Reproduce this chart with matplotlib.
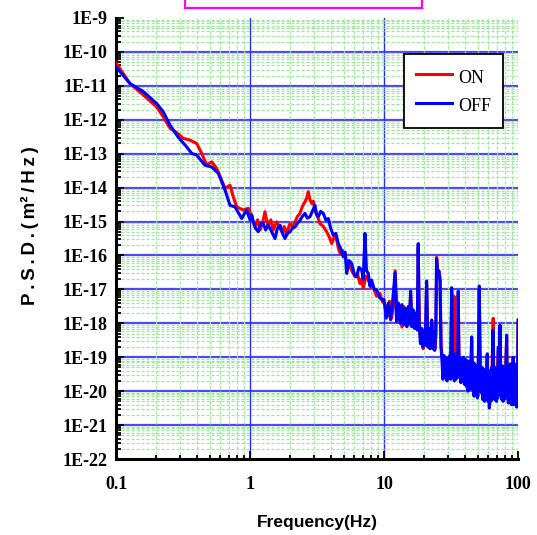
import numpy as np
import matplotlib.pyplot as plt
from matplotlib.ticker import LogLocator, FuncFormatter, NullFormatter
from matplotlib.patches import Rectangle

# frequency (Hz) and log10 of PSD (m^2/Hz)
on_freq = [0.100, 0.127, 0.160, 0.201, 0.225, 0.253, 0.284, 0.318, 0.357, 0.400,
           0.436, 0.475, 0.518, 0.564, 0.615, 0.651, 0.709, 0.750, 0.796, 0.891,
           0.971, 1.03, 1.089, 1.14, 1.188, 1.24, 1.294, 1.33, 1.371, 1.43,
           1.493, 1.54, 1.582, 1.65, 1.725, 1.80, 1.879, 1.93, 1.989, 2.08,
           2.167, 2.26, 2.361, 2.46, 2.572, 2.65, 2.723, 2.80, 2.886, 2.97,
           3.055, 3.19, 3.328, 3.53, 3.735, 3.90, 4.07, 4.25, 4.44, 4.57,
           4.70, 4.90, 5.12, 5.35, 5.58, 5.83, 6.08, 6.35, 6.62, 6.80,
           7.01, 7.30, 7.64, 8.00, 8.32, 8.80, 9.33, 9.70,
           10.2, 10.6, 11.0, 11.4, 11.8, 12.1, 12.6, 13.0, 13.6, 14.0,
           14.4, 14.8, 15.2, 15.6, 15.8, 16.3, 16.7, 17.1, 17.5, 17.8,
           18.0, 18.4, 18.8, 19.2, 19.6, 20.0, 20.4, 20.8, 21.3, 21.7,
           22.1, 22.5, 22.8, 23.2, 23.6, 24.0, 24.4, 24.7, 25.2, 25.7,
           26.2, 26.7,
           27.2, 27.7, 28.2, 28.8, 29.3, 29.8, 30.3, 30.8, 31.3, 32.0,
           32.7, 33.3, 33.8, 34.3, 34.8, 35.3, 35.8, 36.5, 37.1, 37.7,
           38.3, 39.0, 39.6, 40.2, 40.8, 41.4, 42.0, 42.6, 43.2, 43.8,
           44.4, 45.1, 45.9, 46.6, 47.3, 48.0, 48.8, 49.5, 50.2, 51.4,
           52.3, 53.2, 54.0, 54.9, 55.8, 56.6, 57.4, 58.2, 59.0, 59.9,
           60.7, 61.5, 62.3, 63.1, 63.9, 65.3, 66.2, 67.0, 67.9, 69.2,
           70.0, 71.3, 72.4, 73.4, 74.4, 75.3, 76.2, 77.1, 78.0, 78.9,
           79.8, 80.7, 82.3, 83.3, 84.2, 85.1, 86.0, 86.9, 88.0, 88.9,
           89.8, 90.7, 91.6, 92.5, 93.4, 94.3, 95.2, 96.1, 97.0, 97.9,
           98.8, 100.0]
on_log_psd = [-10.32, -10.93, -11.27, -11.62, -11.91, -12.25, -12.38, -12.55, -12.60, -12.70,
              -12.99, -13.34, -13.24, -13.43, -13.78, -14.02, -13.93, -14.27, -14.57, -14.66,
              -14.61, -14.85, -15.16, -14.95, -15.25, -15.05, -14.71, -14.95, -15.11, -14.95,
              -15.25, -15.10, -15.01, -15.15, -15.30, -15.15, -15.40, -15.20, -15.06, -15.15,
              -15.01, -14.85, -14.76, -14.55, -14.42, -14.30, -14.12, -14.35, -14.47, -14.40,
              -14.66, -14.85, -15.06, -15.15, -15.30, -15.45, -15.65, -15.45, -15.55, -15.80,
              -15.94, -15.85, -16.04, -16.20, -16.34, -16.50, -16.63, -16.55, -16.83, -16.70,
              -16.97, -16.60, -16.73, -16.95, -16.93, -17.20, -17.12, -17.35,
              -17.45, -17.80, -17.35, -17.85, -17.45, -16.45, -17.90, -17.45, -18.11, -17.50,
              -18.00, -17.60, -18.05, -17.55, -17.15, -18.05, -17.65, -18.10, -17.75, -18.15,
              -15.75, -18.05, -18.55, -18.20, -18.75, -18.25, -18.60, -16.85, -18.65, -18.20,
              -18.70, -18.30, -18.00, -18.70, -18.30, -18.75, -18.35, -16.05, -16.55, -16.45,
              -16.65, -18.65,
              -19.00, -19.60, -19.00, -19.55, -19.05, -19.65, -19.05, -19.55, -19.00, -17.10,
              -19.50, -17.20, -19.60, -18.95, -19.60, -19.00, -17.15, -19.55, -19.05, -19.70,
              -19.10, -19.65, -19.05, -19.75, -19.10, -19.80, -19.15, -19.95, -19.20, -19.85,
              -19.15, -18.50, -19.90, -19.20, -20.10, -19.25, -20.05, -19.30, -20.15, -17.00,
              -19.35, -20.00, -19.35, -20.20, -19.40, -20.25, -19.45, -20.15, -18.95, -20.25,
              -19.45, -20.40, -19.45, -20.25, -19.35, -17.85, -20.10, -19.40, -20.20, -20.20,
              -19.40, -18.80, -20.05, -18.15, -20.05, -19.35, -20.20, -19.30, -20.25, -19.45,
              -20.20, -19.35, -18.45, -20.15, -19.35, -20.30, -19.30, -20.25, -19.25, -19.20,
              -20.35, -19.25, -20.25, -19.10, -20.35, -19.30, -20.30, -19.25, -20.35, -19.35,
              -20.35, -18.00]

off_freq = [0.100, 0.127, 0.160, 0.201, 0.225, 0.253, 0.292, 0.337, 0.367, 0.400,
            0.461, 0.518, 0.580, 0.651, 0.709, 0.773, 0.867,
            0.941, 1.00, 1.03, 1.059, 1.10, 1.153, 1.20, 1.257, 1.31, 1.36,
            1.41, 1.47, 1.537, 1.60, 1.675, 1.75, 1.825, 1.90, 1.989, 2.07,
            2.167, 2.26, 2.361, 2.46, 2.572, 2.68, 2.80, 2.92, 3.055, 3.14,
            3.23, 3.37, 3.52, 3.68, 3.84, 4.00, 4.18, 4.37, 4.56, 4.76,
            4.97, 5.12, 5.27, 5.50, 5.74, 6.00, 6.25, 6.50, 6.82, 7.00,
            7.21, 7.40, 7.64, 7.85, 8.09, 8.45, 8.83, 9.30, 9.88,
            10.0, 10.4, 10.8, 11.2, 11.6, 12.1, 12.4, 12.8, 13.2, 13.6,
            14.0, 14.4, 14.8, 15.2, 15.5, 15.8, 16.1, 16.5, 16.9, 17.3,
            17.7, 18.0, 18.3, 18.7, 19.1, 19.5, 19.9, 20.3, 20.8, 21.2,
            21.6, 22.0, 22.4, 22.7, 23.1, 23.5, 23.9, 24.3, 24.7, 25.1,
            25.6, 26.2, 26.6, 27.0,
            27.5, 28.0, 28.5, 29.0, 29.5, 30.0, 30.5, 31.0, 31.5, 32.0,
            32.5, 33.0, 33.5, 34.0, 34.5, 35.0, 35.4, 35.8, 36.3, 36.8,
            37.4, 38.0, 38.6, 39.2, 39.8, 40.4, 41.0, 41.6, 42.2, 42.8,
            43.4, 44.0, 44.6, 45.1, 45.7, 46.3, 47.0, 47.7, 48.4, 49.1,
            49.8, 50.5, 51.4, 52.2, 53.0, 53.8, 54.6, 55.4, 56.2, 57.0,
            57.8, 58.5, 59.0, 59.7, 60.4, 61.1, 61.9, 62.7, 63.5, 64.3,
            65.1, 65.9, 66.7, 67.5, 68.3, 69.1, 69.9, 70.7, 71.3, 72.1,
            72.8, 73.4, 74.2, 75.0, 75.8, 76.6, 77.4, 78.2, 79.0, 79.8,
            80.6, 81.4, 82.3, 83.1, 83.9, 84.7, 85.5, 86.3, 87.1, 87.9,
            88.7, 89.5, 90.3, 91.1, 92.0, 92.8, 93.6, 94.4, 95.2, 96.0,
            96.8, 97.6, 98.4, 99.2, 100.0]
off_log_psd = [-10.44, -10.93, -11.17, -11.52, -11.76, -12.16, -12.52, -12.80, -12.99, -13.04,
               -13.34, -13.39, -13.58, -14.07, -14.52, -14.57, -14.91,
               -14.66, -14.95, -14.80, -15.01, -15.20, -15.30, -15.05, -15.06, -15.25, -15.10,
               -15.20, -15.35, -15.50, -15.20, -15.11, -15.35, -15.50, -15.35, -15.30, -15.20,
               -15.16, -15.05, -14.96, -14.85, -14.76, -14.90, -14.86, -14.70, -14.52, -14.80,
               -14.86, -14.70, -14.76, -14.95, -14.91, -15.20, -15.40, -15.35, -15.65, -15.80,
               -16.04, -15.90, -16.53, -16.15, -16.24, -16.55, -16.63, -16.35, -16.43, -16.70,
               -15.35, -16.45, -16.53, -16.90, -16.73, -17.00, -17.02, -17.25, -17.32,
               -17.30, -17.85, -17.40, -17.90, -17.35, -16.50, -17.95, -17.40, -18.00, -17.45,
               -18.05, -17.55, -18.10, -17.50, -18.00, -17.05, -18.10, -17.60, -18.15, -17.70,
               -18.20, -15.65, -18.00, -18.60, -18.15, -18.70, -18.20, -18.65, -16.75, -18.70,
               -18.15, -18.75, -18.25, -17.90, -18.75, -18.25, -18.80, -18.30, -16.10, -16.60,
               -16.45, -16.75, -18.70, -19.00,
               -19.65, -18.95, -19.60, -19.00, -19.70, -19.05, -19.60, -18.95, -19.65, -16.95,
               -19.55, -19.00, -19.70, -18.90, -19.65, -18.95, -19.50, -17.05, -19.60, -19.00,
               -19.75, -19.05, -19.70, -19.00, -19.80, -19.05, -19.85, -19.10, -20.00, -19.15,
               -19.95, -19.10, -19.90, -18.40, -19.95, -19.15, -20.15, -19.20, -20.10, -19.25,
               -20.20, -19.30, -16.90, -19.40, -20.05, -19.30, -20.25, -19.35, -20.30, -19.40,
               -20.20, -19.20, -18.90, -20.30, -19.40, -20.50, -19.40, -20.30, -19.30, -20.25,
               -18.20, -20.15, -19.35, -20.25, -19.30, -20.30, -19.35, -20.20, -18.70, -20.10,
               -19.30, -18.05, -20.10, -19.30, -20.25, -19.25, -20.30, -19.40, -20.25, -19.30,
               -20.20, -19.20, -18.35, -20.20, -19.30, -20.35, -19.25, -20.30, -19.20, -20.35,
               -19.30, -20.40, -19.20, -20.30, -19.00, -20.40, -19.25, -20.35, -19.20, -20.40,
               -19.30, -20.47, -19.40, -20.40, -17.90]

x_range = (0.1, 100)
y_range = (1e-22, 1e-9)


def main():
    fig = plt.figure(figsize=(5.37, 5.35), dpi=100)
    ax = fig.add_axes([116/537, 1 - 459/535, 402/537, 441/535])

    on_psd = 10 ** np.array(on_log_psd)
    off_psd = 10 ** np.array(off_log_psd)

    ax.plot(on_freq, on_psd, color='#ff0000', lw=2.2, label='ON', zorder=3)
    ax.plot(off_freq, off_psd, color='#0000ff', lw=2.2, label='OFF', zorder=4)

    ax.set_xscale('log')
    ax.set_yscale('log')
    ax.set_xlim(*x_range)
    ax.set_ylim(*y_range)

    ax.xaxis.set_major_locator(LogLocator(base=10, numticks=10))
    ax.xaxis.set_minor_locator(LogLocator(base=10, subs=np.arange(2, 10), numticks=100))
    ax.yaxis.set_major_locator(LogLocator(base=10, numticks=30))
    ax.yaxis.set_minor_locator(LogLocator(base=10, subs=np.arange(2, 10), numticks=200))
    ax.xaxis.set_major_formatter(FuncFormatter(lambda v, _: '%g' % v))
    ax.yaxis.set_major_formatter(FuncFormatter(lambda v, _: '1E%d' % round(np.log10(v))))
    ax.xaxis.set_minor_formatter(NullFormatter())
    ax.yaxis.set_minor_formatter(NullFormatter())

    # light green dashed minor grid
    ax.grid(which='minor', color='#9ee89e', lw=0.9, ls=(0, (2.5, 1.5)), zorder=0)
    # blue major grid (skip the frame edges)
    for e in range(-21, -9):
        ax.axhline(10.0 ** e, color='#4a4af0', lw=1.6, zorder=1)
    for f in (1, 10):
        ax.axvline(f, color='#2a2aff', lw=1.0, zorder=1)

    for s in ('top', 'right'):
        ax.spines[s].set_visible(False)
    for s in ('left', 'bottom'):
        ax.spines[s].set_linewidth(2.2)
        ax.spines[s].set_color('black')

    tick_font = {'family': 'Liberation Serif', 'weight': 'bold', 'size': 13}
    ax.tick_params(which='both', direction='in', width=1.3, color='black')
    ax.tick_params(axis='x', which='major', length=6, pad=12)
    ax.tick_params(axis='x', which='minor', length=3)
    ax.tick_params(axis='y', which='major', length=6, pad=6)
    ax.tick_params(axis='y', which='minor', length=3.5)
    for lab in ax.get_xticklabels() + ax.get_yticklabels():
        lab.set_fontproperties(tick_font)

    ax.set_xlabel('Frequency(Hz)', family='Liberation Sans', weight='bold', size=12.5, labelpad=16)
    fig.text(30/537, 1 - 226/535,
             'P\u2009.\u2009S\u2009.\u2009D\u2009.\u2009(\u2009m\u00b2\u2009/\u2009H\u2009z\u2009)',
             rotation=90, ha='center', va='center',
             family='Liberation Sans', weight='bold', size=13.5)

    leg = ax.legend(loc='upper right', bbox_to_anchor=((503 - 116) / 402, 1 - (54 - 18) / 441),
                    prop={'family': 'Liberation Serif', 'size': 13},
                    fancybox=False, framealpha=1, edgecolor='black',
                    handlelength=2.0, handleheight=1.5, handletextpad=0.33,
                    borderpad=0.65, labelspacing=0.36, borderaxespad=0)
    leg.get_frame().set_linewidth(1.3)
    leg.set_zorder(10)

    # magenta title box, cut off by the top edge
    fig.patches.append(Rectangle((185/537, 1 - 8/535), 237/537, 0.05,
                                 transform=fig.transFigure, facecolor='white',
                                 edgecolor='#ff00ff', lw=1.6, clip_on=False))

    fig.savefig('out.png', dpi=100)
    plt.close(fig)


if __name__ == "__main__":
    main()
